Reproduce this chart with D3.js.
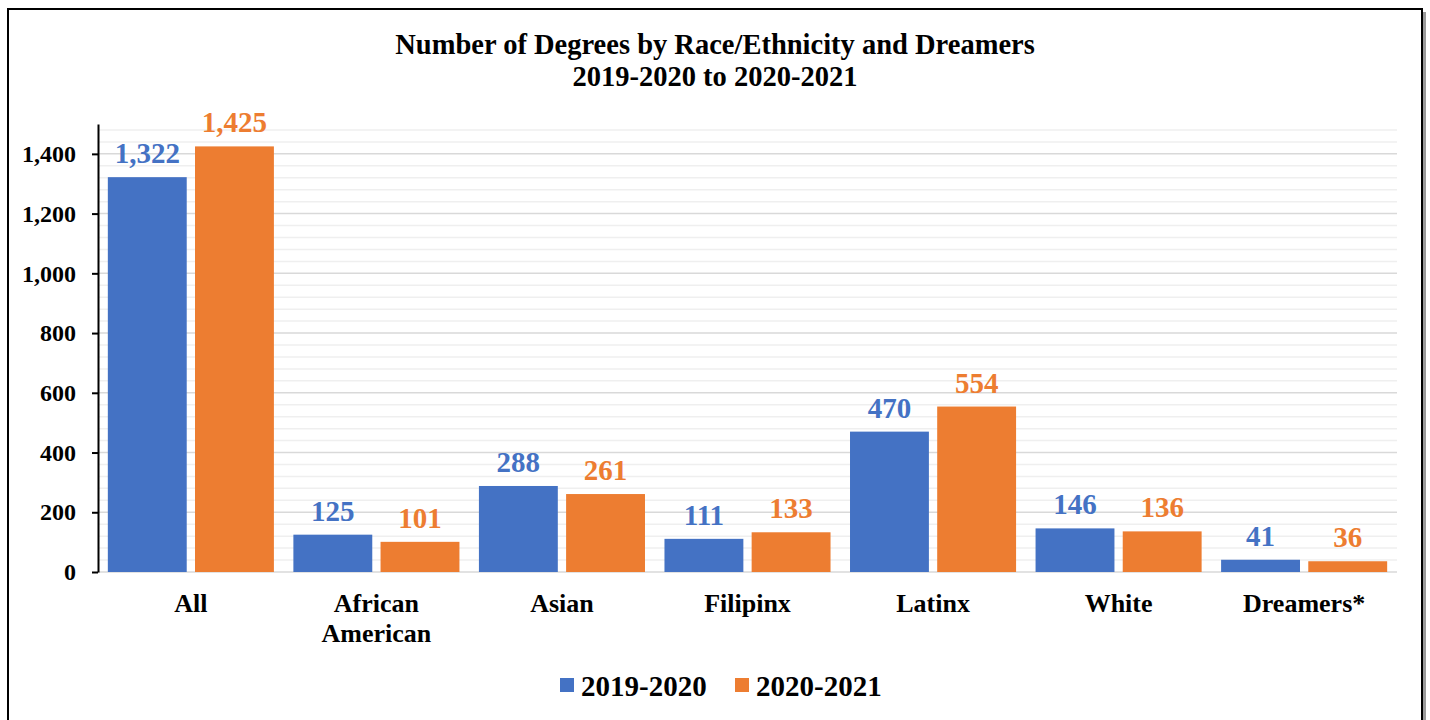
<!DOCTYPE html>
<html lang="en">
<head>
<meta charset="UTF-8">
<title>Number of Degrees by Race/Ethnicity and Dreamers</title>
<script src="https://d3js.org/d3.v7.min.js"></script>
<style>
  body { margin: 0; background: #fff; }
  text { font-family: "Liberation Serif", "Times New Roman", serif; font-weight: bold; }
</style>
</head>
<body>
<svg width="1430" height="720"></svg>
<script>
// data
var categories = ["All", "African\nAmerican", "Asian", "Filipinx", "Latinx", "White", "Dreamers*"];
var years = ["2019-2020", "2020-2021"];
var values2019 = [1322, 125, 288, 111, 470, 146, 41];
var values2020 = [1425, 101, 261, 133, 554, 136, 36];
var yTicks = [0, 200, 400, 600, 800, 1000, 1200, 1400];

var colors = ["#4472C4", "#ED7D31"];
var series = [values2019, values2020];

var svg = d3.select("svg");

// frame with a little shadow
svg.append("rect").attr("x", 11).attr("y", 12).attr("width", 1415).attr("height", 720)
  .attr("fill", "#9a9a9a");
svg.append("rect").attr("x", 8).attr("y", 9).attr("width", 1414).attr("height", 720)
  .attr("fill", "#fff").attr("stroke", "#000").attr("stroke-width", 2);

var plotL = 98, plotR = 1397, plotT = 124, plotB = 572;

var x = d3.scaleBand().domain(categories).range([plotL, plotR]).paddingInner(0.105).paddingOuter(0.053);
var xs = d3.scaleBand().domain([0, 1]).range([0, x.bandwidth()]).paddingInner(0.095);
var y = d3.scaleLinear().domain([0, 1500]).range([plotB, plotT]);

// minor gridlines every 40, major every 200
var minor = d3.range(40, 1500, 40).filter(function(d){ return d % 200 != 0; });
svg.append("g").selectAll("line").data(minor).join("line")
  .attr("x1", plotL).attr("x2", plotR)
  .attr("y1", function(d){ return y(d); }).attr("y2", function(d){ return y(d); })
  .attr("stroke", "#efefef").attr("stroke-width", 1.5);
svg.append("g").selectAll("line").data(yTicks.slice(1)).join("line")
  .attr("x1", plotL).attr("x2", plotR)
  .attr("y1", function(d){ return y(d); }).attr("y2", function(d){ return y(d); })
  .attr("stroke", "#d9d9d9").attr("stroke-width", 1.5);
svg.append("line").attr("x1", plotL).attr("x2", plotR)
  .attr("y1", plotB).attr("y2", plotB).attr("stroke", "#d9d9d9").attr("stroke-width", 1.5);

// bars
series.forEach(function(vals, s){
  var g = svg.append("g");
  g.selectAll("rect").data(vals).join("rect")
    .attr("x", function(d, i){ return x(categories[i]) + xs(s); })
    .attr("width", xs.bandwidth())
    .attr("y", function(d){ return y(d); })
    .attr("height", function(d){ return plotB - y(d); })
    .attr("fill", colors[s]);
  g.selectAll("text").data(vals).join("text")
    .attr("x", function(d, i){ return x(categories[i]) + xs(s) + xs.bandwidth() / 2; })
    .attr("y", function(d){ return y(d) - 14; })
    .attr("text-anchor", "middle")
    .attr("font-size", "29px")
    .attr("fill", colors[s])
    .text(function(d){ return d3.format(",")(d); });
});

// y axis
var yAxis = svg.append("g").attr("transform", "translate(" + plotL + ",0)")
  .call(d3.axisLeft(y).tickValues(yTicks).tickFormat(d3.format(",")).tickSize(6).tickSizeOuter(0));
yAxis.select(".domain").attr("stroke", "#000").attr("stroke-width", 2);
yAxis.selectAll(".tick line").attr("stroke", "#000").attr("stroke-width", 2);
yAxis.selectAll(".tick text").attr("font-size", "24px").attr("fill", "#000").attr("x", -22)
  .attr("font-family", "Liberation Serif").attr("font-weight", "bold");

// category labels
svg.append("g").selectAll("text").data(categories).join("text")
  .attr("text-anchor", "middle")
  .attr("font-size", "26px")
  .attr("fill", "#000")
  .attr("transform", function(d){ return "translate(" + (x(d) + x.bandwidth() / 2) + ",612)"; })
  .selectAll("tspan").data(function(d){ return d.split("\n"); }).join("tspan")
  .attr("x", 0).attr("dy", function(d, i){ return i ? 30 : 0; })
  .text(function(d){ return d; });

// title
svg.append("text").attr("x", 715).attr("y", 54).attr("text-anchor", "middle")
  .attr("font-size", "28.5px").text("Number of Degrees by Race/Ethnicity and Dreamers");
svg.append("text").attr("x", 715).attr("y", 86).attr("text-anchor", "middle")
  .attr("font-size", "28.5px").text("2019-2020 to 2020-2021");

// legend
var legX = [560, 735];
years.forEach(function(yr, i){
  svg.append("rect").attr("x", legX[i]).attr("y", 678).attr("width", 14).attr("height", 14).attr("fill", colors[i]);
  svg.append("text").attr("x", legX[i] + 21).attr("y", 696).attr("font-size", "29px").text(yr);
});
</script>
</body>
</html>
